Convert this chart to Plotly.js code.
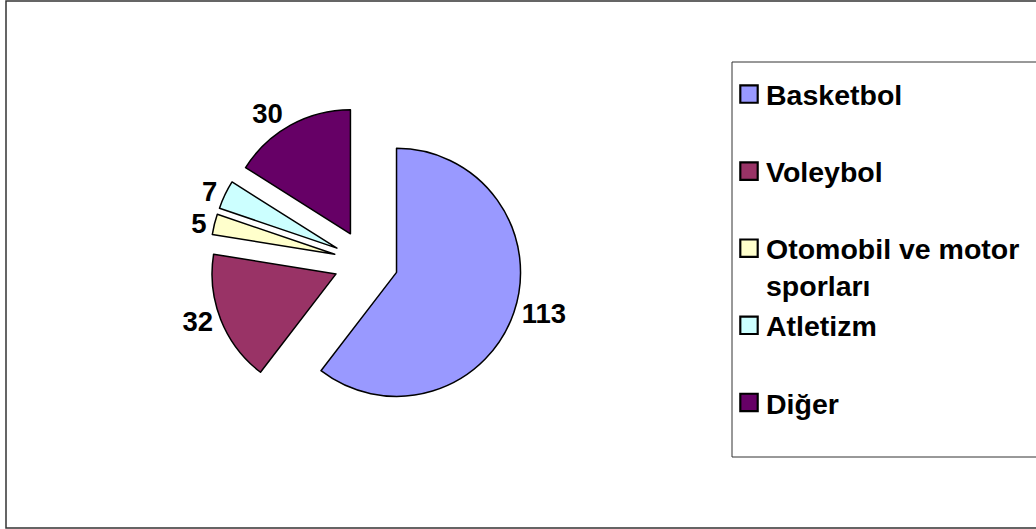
<!DOCTYPE html>
<html>
<head>
<meta charset="utf-8">
<script src="https://cdn.plot.ly/plotly-3.0.1.min.js"></script>
<style>
  html, body { margin: 0; padding: 0; background: #fff; }
  #chart { width: 1036px; height: 529px; }
</style>
</head>
<body>
<div id="chart"></div>
<script>
// ---- data ----
const categories = ['Basketbol', 'Voleybol', 'Otomobil ve motor sporları', 'Atletizm', 'Diğer'];
const counts = [113, 32, 5, 7, 30];
const sliceColors = ['#9999FF', '#993366', '#FFFFCC', '#CCFFFF', '#660066'];

// legend labels: wrap long names, pad every entry to two lines
function legendLabel(name) {
  let lines = [name];
  if (name.length > 18) {
    const cut = name.lastIndexOf(' ', 18);
    lines = [name.slice(0, cut), name.slice(cut + 1)];
  }
  while (lines.length < 2) lines.push(' ');
  return lines.join('<br>');
}
const labels = categories.map(legendLabel);

const W = 1036, H = 529;
const cx = 366, cy = 262, r = 124, pull = 0.26;
const half = r * (1 + pull);

const fontFam = 'Arial, "Liberation Sans", sans-serif';

const trace = {
  type: 'pie',
  labels: labels,
  values: counts,
  sort: false,
  direction: 'clockwise',
  rotation: 0,
  pull: pull,
  marker: { colors: sliceColors, line: { color: '#000000', width: 1.5 } },
  textinfo: 'value',
  textposition: 'outside',
  textfont: { family: fontFam, size: 27.5, weight: 'bold', color: '#000000' },
  hoverinfo: 'label+value',
  domain: {
    x: [(cx - half) / W, (cx + half) / W],
    y: [(H - cy - half) / H, (H - cy + half) / H]
  }
};

const layout = {
  width: W,
  height: H,
  margin: { l: 0, r: 0, t: 0, b: 0, autoexpand: false },
  paper_bgcolor: '#ffffff',
  showlegend: true,
  legend: {
    x: 726 / W,
    y: 1 - 69 / H,
    xanchor: 'left',
    yanchor: 'top',
    valign: 'top',
    bgcolor: 'rgba(0,0,0,0)',
    borderwidth: 0,
    font: { family: fontFam, size: 28.5, weight: 'bold', color: '#000000' },
    itemwidth: 30
  },
  shapes: [
    { // outer chart frame
      type: 'rect', xref: 'paper', yref: 'paper',
      x0: 6 / W, x1: 1.01, y0: 1 / H, y1: 1 - 1 / H,
      line: { color: '#333333', width: 1.5 },
      fillcolor: 'rgba(0,0,0,0)'
    },
    { // legend frame
      type: 'rect', xref: 'paper', yref: 'paper', layer: 'below',
      x0: 732 / W, x1: 1.01, y0: 1 - 457 / H, y1: 1 - 62 / H,
      line: { color: '#333333', width: 1 },
      fillcolor: '#ffffff'
    }
  ]
};

Plotly.newPlot('chart', [trace], layout, { displayModeBar: false, staticPlot: true }).then(function (gd) {
  // enlarge legend swatches to match the reference
  document.querySelectorAll('.legendpoints path').forEach(function (p) {
    const t = p.getAttribute('transform') || '';
    p.setAttribute('transform', t + ' translate(3,0) scale(1.45)');
  });
});
</script>
</body>
</html>
